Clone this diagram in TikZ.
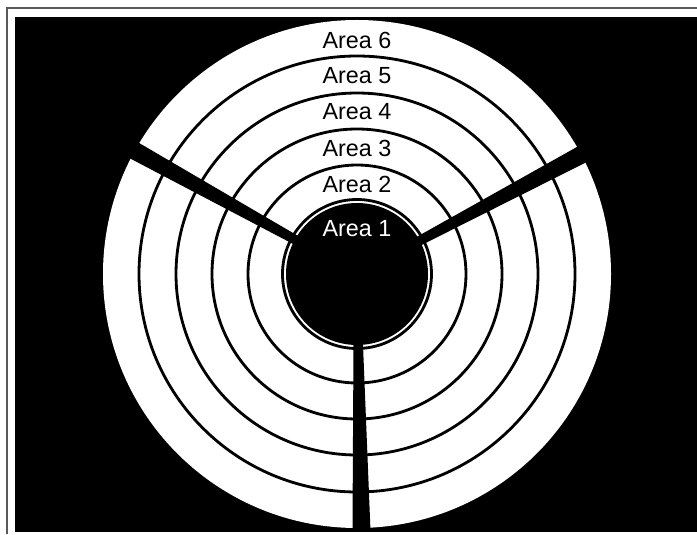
\documentclass[tikz,border=0pt]{standalone}
\usepackage{fontspec}
\setmainfont{Liberation Sans}
\usetikzlibrary{calc}
\tikzset{
  ring/.style={draw=black,line width=2pt},
  gap/.style={fill=black},
  alabel/.style={font=\fontsize{16.6}{19}\selectfont,inner sep=0pt}
}

\begin{document}
\begin{tikzpicture}[x=0.025cm,y=0.025cm]
\useasboundingbox (0,0) rectangle (697,534);
% frame and background
\draw[black!65,line width=1.4pt] (7,0) -- (7,526) -- (697,526);
\fill[black] (15,2) rectangle (697,517);
\coordinate (C) at (357,260);
% disc with rings
\fill[white] (C) circle (254);
\foreach \r in {109,145,181,218}
  \draw[ring] (C) circle (\r);
% hub
\draw[ring] (C) circle (74.5);
\fill[black] (C) circle (71);
% the three gaps
\foreach \a in {28,151,271}
  \fill[gap] ($(C)+(\a:60)+(\a+90:4.5)$) -- ($(C)+(\a:257)+(\a+90:9)$)
    -- ($(C)+(\a:257)+(\a-90:9)$) -- ($(C)+(\a:60)+(\a-90:4.5)$) -- cycle;
% labels
\foreach \n/\d in {6/234,5/198,4/162,3/126,2/90}
  \node[alabel] (a\n) at ($(C)+(0,\d)$) {Area \n};
\node[alabel,text=white] (a1) at ($(C)+(0,45)$) {Area 1};
\end{tikzpicture}
\end{document}
